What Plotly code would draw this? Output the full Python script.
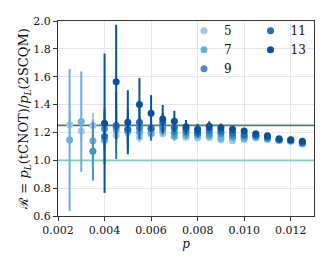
import plotly.graph_objects as go

p = [0.0025, 0.003, 0.0035, 0.004, 0.0045, 0.005, 0.0055, 0.006, 0.0065, 0.007, 0.0075,
     0.008, 0.0085, 0.009, 0.0095, 0.010, 0.0105, 0.011, 0.0115, 0.012, 0.0125]

r5 = [1.255, 1.21, 1.25, 1.148, 1.18, 1.20, 1.164, 1.19, 1.19, 1.17, 1.165,
      1.16, 1.164, 1.148, 1.141, 1.15, 1.16, 1.15, 1.14, 1.135, 1.118]
e5 = [0.10, 0.08, 0.09, 0.05, 0.05, 0.04, 0.035, 0.03, 0.025, 0.022, 0.02,
      0.018, 0.016, 0.015, 0.014, 0.013, 0.012, 0.011, 0.010, 0.010, 0.009]

r7 = [1.146, 1.278, 1.141, 1.143, 1.218, 1.21, 1.20, 1.194, 1.211, 1.17, 1.18,
      1.176, 1.175, 1.16, 1.164, 1.157, 1.169, 1.153, 1.145, 1.14, 1.118]
e7 = [0.51, 0.36, 0.15, 0.07, 0.07, 0.06, 0.05, 0.04, 0.035, 0.03, 0.025,
      0.022, 0.02, 0.018, 0.016, 0.015, 0.014, 0.013, 0.012, 0.011, 0.010]

r9 = [None, None, 1.065, 1.227, 1.24, 1.22, 1.232, 1.225, 1.234, 1.20, 1.20,
      1.19, 1.19, 1.19, 1.175, 1.17, 1.17, 1.16, 1.148, 1.14, 1.125]
e9 = [None, None, 0.21, 0.12, 0.12, 0.09, 0.08, 0.06, 0.05, 0.04, 0.035,
      0.03, 0.025, 0.022, 0.02, 0.018, 0.016, 0.015, 0.014, 0.012, 0.011]

r11 = [None, None, None, 1.171, 1.25, 1.222, 1.273, 1.23, 1.269, 1.234, 1.222,
       1.20, 1.22, 1.211, 1.194, 1.183, 1.18, 1.165, 1.15, 1.145, 1.13]
e11 = [None, None, None, 0.20, 0.24, 0.15, 0.12, 0.09, 0.07, 0.05, 0.04,
       0.035, 0.03, 0.025, 0.022, 0.02, 0.018, 0.016, 0.015, 0.013, 0.012]

r13 = [None, None, None, 1.266, 1.563, 1.273, 1.40, 1.338, 1.297, 1.28, 1.24,
       1.222, 1.245, 1.234, 1.222, 1.211, 1.19, 1.176, 1.155, 1.148, 1.136]
e13 = [None, None, None, 0.50, 0.41, 0.23, 0.19, 0.13, 0.10, 0.075, 0.05,
       0.04, 0.035, 0.03, 0.025, 0.022, 0.02, 0.018, 0.016, 0.015, 0.013]

distances = ["5", "7", "9", "11", "13"]
ratios = [r5, r7, r9, r11, r13]
errors = [e5, e7, e9, e11, e13]
colors = ["#9ecae1", "#6baed6", "#4292c6", "#2171b5", "#08519c"]
legend_ids = ["legend", "legend", "legend", "legend2", "legend2"]

ref_lines = [1.25, 1.0]
ref_colors = ["#4f7d72", "#7fcbbd"]

x_range = [0.002, 0.013]
y_range = [0.6, 2.0]
x_ticks = [0.002, 0.004, 0.006, 0.008, 0.010, 0.012]
x_ticklabels = ["0.002", "0.004", "0.006", "0.008", "0.010", "0.012"]
y_ticks = [0.6, 0.8, 1.0, 1.2, 1.4, 1.6, 1.8, 2.0]

FONT = "DejaVu Serif"

fig = go.Figure()

for v, c in zip(ref_lines, ref_colors):
    fig.add_trace(go.Scatter(
        x=x_range, y=[v, v], mode="lines", line=dict(color=c, width=1.8),
        showlegend=False, hoverinfo="skip",
    ))

for d, r, e, c, lg in zip(distances, ratios, errors, colors, legend_ids):
    fig.add_trace(go.Scatter(
        x=p, y=r, mode="markers", name=d, legend=lg,
        marker=dict(color=c, size=7, line=dict(width=0)),
        error_y=dict(type="data", array=e, visible=True, color=c, thickness=2, width=0),
    ))

axis_common = dict(
    showline=True, linecolor="#333333", linewidth=1.2, mirror=True,
    ticks="outside", ticklen=4, tickwidth=1, tickcolor="#333333",
    showgrid=True, gridcolor="#e6e6e6", gridwidth=1, zeroline=False,
    tickfont=dict(family=FONT, size=11, color="#111111"),
)

fig.update_layout(
    width=324, height=265,
    margin=dict(l=50, r=18, t=8, b=57),
    paper_bgcolor="white", plot_bgcolor="white",
    font=dict(family=FONT, size=11, color="#111111"),
    xaxis=dict(range=x_range, tickvals=x_ticks, ticktext=x_ticklabels,
               title=dict(text="<i>p</i>", standoff=2, font=dict(family=FONT, size=12)),
               **axis_common),
    yaxis=dict(range=y_range, tickvals=y_ticks, tickformat=".1f",
               title=dict(text="ℛ = <i>p</i><sub><i>L</i></sub>(tCNOT)/<i>p</i><sub><i>L</i></sub>(2SCQM)",
                          standoff=1, font=dict(family=FONT, size=13)),
               **axis_common),
    legend=dict(x=0.492, y=1.025, xanchor="left", yanchor="top",
                bgcolor="rgba(255,255,255,0)", font=dict(family=FONT, size=12),
                tracegroupgap=0, itemwidth=30),
    legend2=dict(x=0.752, y=1.025, xanchor="left", yanchor="top",
                 bgcolor="rgba(255,255,255,0)", font=dict(family=FONT, size=12),
                 tracegroupgap=0, itemwidth=30),
    showlegend=True,
)

fig.write_html("out.html")
